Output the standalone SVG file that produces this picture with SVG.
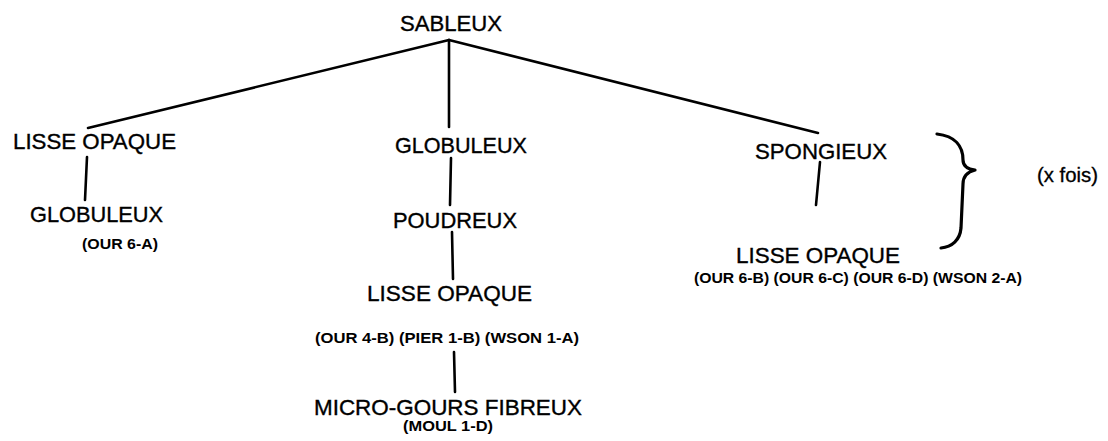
<svg xmlns="http://www.w3.org/2000/svg" width="1108" height="441" viewBox="0 0 1108 441">
  <style>
    .bg { fill: #ffffff; }
    .lbl { font-family: "Liberation Sans", Arial, sans-serif; font-size: 21.5px; fill: #000; stroke: #000; stroke-width: 0.35; }
    .ref { font-family: "Liberation Sans", Arial, sans-serif; font-size: 14.5px; font-weight: bold; fill: #000; }
    .note { font-family: "Liberation Sans", Arial, sans-serif; font-size: 19.5px; fill: #000; stroke: #000; stroke-width: 0.3; }
    .edge { stroke: #000; stroke-width: 2.6; fill: none; stroke-linecap: round; stroke-linejoin: round; }
    .brace { stroke: #000; stroke-width: 3.2; fill: none; stroke-linecap: round; stroke-linejoin: round; }
  </style>
  <rect class="bg" x="0" y="0" width="1108" height="441"/>

  <!-- tree branches -->
  <g id="connectors">
    <path class="edge" d="M449,40 L88,128"/>
    <path class="edge" d="M449,40 L449,127"/>
    <path class="edge" d="M449,40 L818,133"/>
    <path class="edge" d="M87,157 L85,200"/>
    <path class="edge" d="M451,158 L450,205"/>
    <path class="edge" d="M452,232 L453,279"/>
    <path class="edge" d="M454,352 L455,392"/>
    <path class="edge" d="M820,162 L816,205"/>
  </g>

  <g id="root">
    <text class="lbl" x="400" y="31" textLength="102" lengthAdjust="spacingAndGlyphs">SABLEUX</text>
  </g>

  <g id="left-branch">
    <g id="left-lisse">
      <text class="lbl" x="13" y="149" textLength="163" lengthAdjust="spacingAndGlyphs">LISSE OPAQUE</text>
    </g>
    <g id="left-globuleux">
      <text class="lbl" x="30" y="222" textLength="133" lengthAdjust="spacingAndGlyphs">GLOBULEUX</text>
      <text class="ref" x="82" y="249" textLength="76" lengthAdjust="spacingAndGlyphs">(OUR 6-A)</text>
    </g>
  </g>

  <g id="middle-branch">
    <g id="mid-globuleux">
      <text class="lbl" x="395" y="153" textLength="132" lengthAdjust="spacingAndGlyphs">GLOBULEUX</text>
    </g>
    <g id="mid-poudreux">
      <text class="lbl" x="393" y="228" textLength="124" lengthAdjust="spacingAndGlyphs">POUDREUX</text>
    </g>
    <g id="mid-lisse">
      <text class="lbl" x="367" y="301" textLength="165" lengthAdjust="spacingAndGlyphs">LISSE OPAQUE</text>
      <text class="ref" x="315" y="343" textLength="264" lengthAdjust="spacingAndGlyphs">(OUR 4-B) (PIER 1-B) (WSON 1-A)</text>
    </g>
    <g id="mid-micro-gours">
      <text class="lbl" x="314" y="415" textLength="268" lengthAdjust="spacingAndGlyphs">MICRO-GOURS FIBREUX</text>
      <text class="ref" x="403" y="431" textLength="90" lengthAdjust="spacingAndGlyphs">(MOUL 1-D)</text>
    </g>
  </g>

  <g id="right-branch">
    <g id="right-spongieux">
      <text class="lbl" x="755" y="159" textLength="132" lengthAdjust="spacingAndGlyphs">SPONGIEUX</text>
    </g>
    <g id="right-lisse">
      <text class="lbl" x="736" y="263" textLength="164" lengthAdjust="spacingAndGlyphs">LISSE OPAQUE</text>
      <text class="ref" x="694" y="283" textLength="328" lengthAdjust="spacingAndGlyphs">(OUR 6-B) (OUR 6-C) (OUR 6-D) (WSON 2-A)</text>
    </g>
  </g>

  <g id="repeat-brace">
    <path class="brace" d="M937,134 C955,136 963,146 963,160 C963,166 967,169 975,170 C967,172 963,177 963,184 L961,228 C960,240 952,247 941,248"/>
    <text class="note" x="1037" y="182" textLength="61" lengthAdjust="spacingAndGlyphs">(x fois)</text>
  </g>
</svg>
